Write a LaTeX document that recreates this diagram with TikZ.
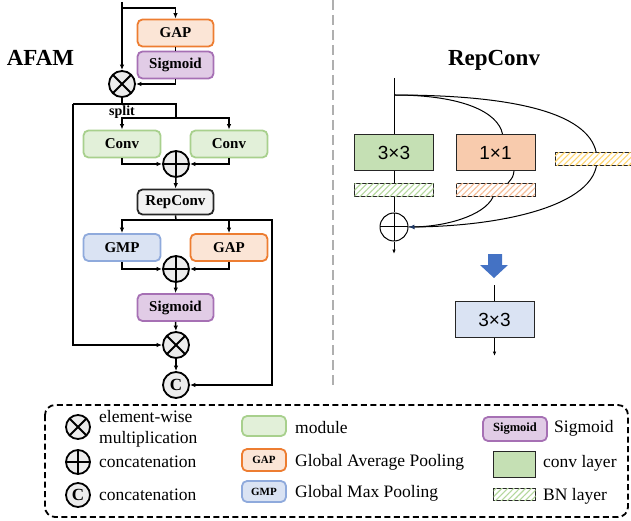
\documentclass[tikz,border=0pt]{standalone}
\usepackage{fontspec}
\setmainfont{Liberation Serif}
\newfontfamily\arialf{Liberation Sans}
\usetikzlibrary{arrows.meta,patterns,patterns.meta}
\definecolor{grnB}{RGB}{168,208,141}
\definecolor{grnF}{RGB}{226,240,217}
\definecolor{orgB}{RGB}{237,125,49}
\definecolor{orgF}{RGB}{251,229,214}
\definecolor{bluB}{RGB}{143,170,220}
\definecolor{bluF}{RGB}{218,227,243}
\definecolor{purB}{RGB}{166,112,180}
\definecolor{purF}{RGB}{225,204,230}
\definecolor{repF}{RGB}{242,242,242}
\definecolor{circF}{RGB}{236,236,236}
\definecolor{kGreen}{RGB}{197,224,180}
\definecolor{kOrange}{RGB}{248,203,173}
\definecolor{hGreen}{RGB}{180,216,156}
\definecolor{hOrange}{RGB}{246,188,150}
\definecolor{hYellow}{RGB}{255,214,110}
\definecolor{bigBlue}{RGB}{68,114,196}
\definecolor{navy}{RGB}{31,56,100}
\definecolor{sepgray}{RGB}{175,175,175}
\newcommand{\boxfont}{\fontsize{15}{18}\selectfont\bfseries}
\newcommand{\legfont}{\fontsize{17.5}{21}\selectfont}
\newcommand{\titlefont}{\fontsize{23}{27}\selectfont\bfseries}
\newcommand{\kfont}{\arialf\fontsize{19}{22}\selectfont}
\tikzset{
  arr/.style={-{Latex[length=5.5pt,width=4.5pt]}},
  sarr/.style={-{Latex[length=4.5pt,width=3.5pt]}},
  wire/.style={line width=1.5pt},
  thinwire/.style={line width=1pt},
  mbox/.style={draw, rounded corners=5pt, line width=1.8pt, minimum width=76pt, minimum height=27pt, inner sep=0pt, font=\boxfont},
  gapbox/.style={mbox, draw=orgB, fill=orgF},
  sigbox/.style={mbox, draw=purB, fill=purF},
  convbox/.style={mbox, draw=grnB, fill=grnF, minimum width=77pt},
  gmpbox/.style={mbox, draw=bluB, fill=bluF, minimum width=77pt},
  repbox/.style={mbox, draw=black!85, fill=repF, minimum height=25pt},
  opcirc/.style={circle, draw, line width=1.8pt, fill=circF, minimum size=26pt, inner sep=0pt},
  mulop/.style={opcirc, path picture={\draw[line width=1.8pt] (path picture bounding box.north west) -- (path picture bounding box.south east) (path picture bounding box.north east) -- (path picture bounding box.south west);}},
  plusop/.style={opcirc, path picture={\draw[line width=1.8pt] (path picture bounding box.north) -- (path picture bounding box.south) (path picture bounding box.west) -- (path picture bounding box.east);}},
  catop/.style={opcirc, font=\fontsize{17}{18}\selectfont\bfseries},
  kbox/.style={draw=black!85, line width=1pt, minimum width=79pt, minimum height=36pt, inner sep=0pt, font=\kfont},
  hbox/.style={draw=black!85, line width=1pt, minimum width=79pt, minimum height=13pt, inner sep=0pt, fill=white},
  hatch/.style={postaction={pattern={Lines[angle=45,distance=4.2pt,line width=1.1pt]}, pattern color=#1}},
  legtext/.style={anchor=base west, inner sep=0pt, font=\legfont, align=left},
}
\begin{document}
\begin{tikzpicture}[x=1pt,y=-1pt]
\useasboundingbox (0,0) rectangle (631,521);
% separator
\draw[sepgray, line width=1.6pt, dash pattern=on 10pt off 5pt] (333,0) -- (333,387);
% titles
\node[font=\titlefont, anchor=base, inner sep=0pt] (tafam) at (40.5,66) {AFAM};
\node[font=\titlefont, anchor=base, inner sep=0pt] (trep) at (494,66) {RepConv};

% ===== AFAM =====
\node[gapbox] (gap1) at (175.5,33) {GAP};
\node[sigbox] (sig1) at (175.5,65) {Sigmoid};
\node[mulop] (mul1) at (122,84) {};
\node[convbox] (conv1) at (122,144) {Conv};
\node[convbox] (conv2) at (229,144) {Conv};
\node[plusop] (plus1) at (176,164) {};
\node[repbox] (rep) at (175.5,202) {RepConv};
\node[gmpbox] (gmp) at (122,247.5) {GMP};
\node[gapbox, minimum width=77pt] (gap2) at (229,247.5) {GAP};
\node[plusop] (plus2) at (176,269) {};
\node[sigbox] (sig2) at (175.5,307.5) {Sigmoid};
\node[mulop] (mul2) at (176,345) {};
\node[catop] (cc) at (176,385) {C};

\coordinate (in1) at (122,2);
\coordinate (j1) at (122,8);
\coordinate (spL) at (73,104);
\coordinate (spM) at (122,104);
\coordinate (spR) at (176,104);
\coordinate (br1) at (176,118);
\coordinate (br2) at (176,220);
\coordinate (rt) at (272,220);

\draw[wire,arr] (in1) -- (mul1.north);
\draw[wire,arr] (j1) -| (gap1.north);
\draw[wire] (gap1.south) -- (sig1.north);
\draw[wire,arr] (sig1.south) |- (mul1.east);
\draw[wire] (mul1.south) -- (spM);
\draw[wire] (spL) -- (spR) -- (br1);
\node[font=\fontsize{14}{16}\selectfont\bfseries, inner sep=0pt, anchor=base] (splitlbl) at (122,116) {split};
\draw[wire,arr] (br1) -| (conv1.north);
\draw[wire,arr] (br1) -| (conv2.north);
\draw[wire,arr] (conv1.south) |- (plus1.west);
\draw[wire,arr] (conv2.south) |- (plus1.east);
\draw[wire,arr] (plus1.south) -- (rep.north);
\draw[wire] (rep.south) -- (br2);
\draw[wire,arr] (br2) -| (gmp.north);
\draw[wire,arr] (br2) -| (gap2.north);
\draw[wire,arr] (br2) -- (rt) |- (cc.east);
\draw[wire,arr] (gmp.south) |- (plus2.west);
\draw[wire,arr] (gap2.south) |- (plus2.east);
\draw[wire,arr] (plus2.south) -- (sig2.north);
\draw[wire,arr] (sig2.south) -- (mul2.north);
\draw[wire,arr] (spL) |- (mul2.west);
\draw[wire,arr] (mul2.south) -- (cc.north);

% ===== RepConv =====
\coordinate (rin) at (394,78);
\coordinate (rb) at (394,95);
\coordinate (rout) at (394,254);
\node[kbox, fill=kGreen] (k3) at (394,152.5) {3×3};
\node[kbox, fill=kOrange] (k1) at (495.5,152.5) {1×1};
\node[hbox, hatch=hGreen] (bn3) at (394,190) {};
\node[hbox, hatch=hOrange] (bn1) at (495.5,190) {};
\node[circle, draw, thinwire, minimum size=28pt, inner sep=0pt, fill=white,
  path picture={\draw[thinwire] (path picture bounding box.north) -- (path picture bounding box.south) (path picture bounding box.west) -- (path picture bounding box.east);}] (rplus) at (394,227) {};
\draw[thinwire] (rin) -- (k3.north);
\draw[thinwire] (rb) .. controls (462,95) and (498,112) .. ([xshift=7pt]k1.north);
\draw[thinwire] (rb) .. controls (530,95) and (597,118) .. (597,160) .. controls (597,206) and (500,227) .. (rplus.east);
\draw[thinwire] (k3.south) -- (bn3.north);
\draw[thinwire] (bn3.south) -- (rplus.north);
\draw[thinwire] ([xshift=18.5pt]k1.south) .. controls (513,177) .. ([xshift=12.5pt]bn1.north);
\draw[thinwire, -{Latex[length=6pt,width=5pt,color=navy]}] ([xshift=-2.5pt]bn1.south) .. controls (484,216) and (445,226.5) .. (rplus.east);
\begin{scope}
\clip (0,0) rectangle (631,521);
\node[hbox, minimum width=86pt, hatch=hYellow] (bnid) at (598,159.5) {};
\end{scope}
\draw[thinwire, sarr] (rplus.south) -- (rout);
\fill[bigBlue] (488,254) -- (502,254) -- (502,265) -- (508,265) -- (494,278) -- (480,265) -- (488,265) -- cycle;
\coordinate (fin) at (494.5,285);
\coordinate (fout) at (494.5,356);
\node[kbox, fill=bluF] (fbox) at (494.5,319.5) {3×3};
\draw[thinwire] (fin) -- (fbox.north);
\draw[thinwire, sarr] (fbox.south) -- (fout);

% ===== Legend =====
\draw[line width=1.8pt, dash pattern=on 6pt off 3.5pt, rounded corners=10pt] (45,405) rectangle (628,517);
\node[mulop, minimum size=24pt] (lmul) at (78,427) {};
\node[plusop, minimum size=24pt] (lplus) at (78,462) {};
\node[catop, minimum size=24pt] (lcat) at (78,495) {C};
\node[legtext] (tmul1) at (99,422) {element-wise};
\node[legtext] (tmul2) at (99,443) {multiplication};
\node[legtext] (tplus) at (99,467) {concatenation};
\node[legtext] (tcat) at (99,500) {concatenation};
\node[mbox, draw=grnB, fill=grnF, minimum width=44pt, minimum height=20pt] (lmod) at (264,426) {};
\node[mbox, draw=orgB, fill=orgF, minimum width=44pt, minimum height=22pt, font=\fontsize{11}{12}\selectfont\bfseries] (lgap) at (264,460) {GAP};
\node[mbox, draw=bluB, fill=bluF, minimum width=44pt, minimum height=21pt, font=\fontsize{11}{12}\selectfont\bfseries] (lgmp) at (264,491.5) {GMP};
\node[legtext] (tmod) at (295,433) {module};
\node[legtext] (tgap) at (295,466) {Global Average Pooling};
\node[legtext] (tgmp) at (295,497) {Global Max Pooling};
\node[mbox, draw=purB, fill=purF, minimum width=64pt, minimum height=24pt, font=\fontsize{12.5}{14}\selectfont\bfseries] (lsig) at (515,429) {Sigmoid};
\node[draw=black!85, line width=1pt, fill=kGreen, minimum width=42pt, minimum height=26pt, inner sep=0pt] (lconv) at (514.5,464.5) {};
\node[draw=black!85, line width=1pt, fill=white, minimum width=42pt, minimum height=12pt, inner sep=0pt, hatch=hGreen] (lbn) at (514.5,494.5) {};
\node[legtext] (tsig) at (554,432) {Sigmoid};
\node[legtext] (tconv) at (543,467) {conv layer};
\node[legtext] (tbn) at (543,500) {BN layer};
\end{tikzpicture}
\end{document}
